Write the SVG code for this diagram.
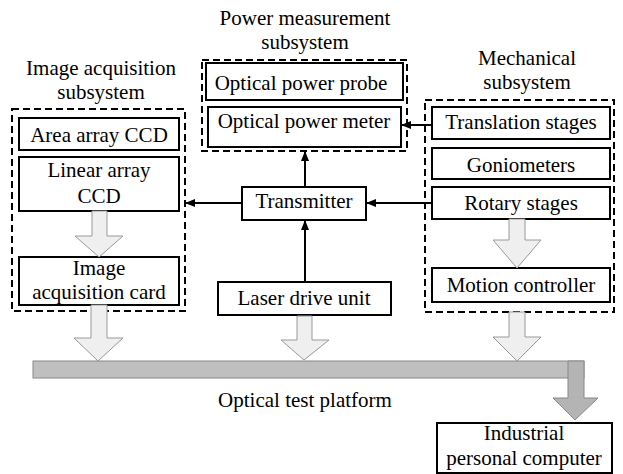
<svg xmlns="http://www.w3.org/2000/svg" width="623" height="474" viewBox="0 0 623 474">
<style>
text{font-size:21px;fill:#000;text-anchor:middle}
.box{fill:#fff;stroke:#000;stroke-width:2}
.dash{fill:none;stroke:#000;stroke-width:2;stroke-dasharray:7 4}
.blk{fill:#efefef;stroke:#999;stroke-width:1}
.bar{fill:#bfbfbf;stroke:#888;stroke-width:1}
.con{stroke:#000;stroke-width:2;fill:none}
</style>
<defs>
<marker id="ah" markerWidth="10" markerHeight="10" refX="9" refY="5" orient="auto" markerUnits="userSpaceOnUse">
<path d="M0,1 L10,5 L0,9 Z" fill="#000"/>
</marker>
</defs>
<rect width="623" height="474" fill="#fff"/>
<g font-family="Liberation Serif, DejaVu Serif, serif">

<g id="image-acquisition-subsystem">
<text x="101" y="75">Image acquisition</text>
<text x="101" y="99">subsystem</text>
<rect class="dash" x="12" y="109" width="173" height="202"/>
</g>
<g id="area-array-ccd">
<rect class="box" x="19" y="118" width="160" height="32"/>
<text x="99" y="142">Area array CCD</text>
</g>
<g id="linear-array-ccd">
<rect class="box" x="19" y="157" width="160" height="54"/>
<text x="99" y="177">Linear array</text>
<text x="99" y="203">CCD</text>
</g>
<g id="image-acquisition-card">
<rect class="box" x="19" y="257" width="160" height="48"/>
<text x="99" y="275">Image</text>
<text x="99" y="299">acquisition card</text>
</g>

<g id="power-measurement-subsystem">
<text x="305" y="25">Power measurement</text>
<text x="305" y="49">subsystem</text>
<rect class="dash" x="202" y="60" width="205" height="91"/>
</g>
<g id="optical-power-probe">
<rect class="box" x="206" y="63" width="197" height="37"/>
<text x="301" y="90">Optical power probe</text>
</g>
<g id="optical-power-meter">
<rect class="box" x="208" y="107" width="193" height="40"/>
<text x="304" y="128">Optical power meter</text>
</g>

<g id="transmitter">
<rect class="box" x="242" y="187" width="124" height="33"/>
<text x="304" y="208">Transmitter</text>
</g>
<g id="laser-drive-unit">
<rect class="box" x="218" y="282" width="173" height="33"/>
<text x="304" y="305">Laser drive unit</text>
</g>

<g id="mechanical-subsystem">
<text x="527" y="65">Mechanical</text>
<text x="527" y="89">subsystem</text>
<rect class="dash" x="425" y="100" width="189" height="212"/>
</g>
<g id="translation-stages">
<rect class="box" x="432" y="107" width="178" height="32"/>
<text x="521" y="129">Translation stages</text>
</g>
<g id="goniometers">
<rect class="box" x="432" y="148" width="178" height="31"/>
<text x="521" y="172">Goniometers</text>
</g>
<g id="rotary-stages">
<rect class="box" x="432" y="187" width="178" height="32"/>
<text x="521" y="210">Rotary stages</text>
</g>
<g id="motion-controller">
<rect class="box" x="432" y="268" width="178" height="34"/>
<text x="521" y="292">Motion controller</text>
</g>

<g id="optical-test-platform">
<rect class="bar" x="33" y="361" width="551" height="17"/>
<text x="305" y="407">Optical test platform</text>
</g>
<g id="industrial-personal-computer">
<rect class="box" x="437" y="423" width="175" height="50"/>
<text x="524" y="440">Industrial</text>
<text x="524" y="465">personal computer</text>
</g>
</g>

<g id="connectors">
<line class="con" x1="432" y1="125" x2="402" y2="125" marker-end="url(#ah)"/>
<line class="con" x1="305" y1="187" x2="305" y2="152" marker-end="url(#ah)"/>
<line class="con" x1="305" y1="282" x2="305" y2="221" marker-end="url(#ah)"/>
<line class="con" x1="432" y1="203" x2="367" y2="203" marker-end="url(#ah)"/>
<line class="con" x1="242" y1="203" x2="186" y2="203" marker-end="url(#ah)"/>
<path class="blk" d="M92,211 L107,211 L107,236 L123,236 L99,257 L75,236 L92,236 Z"/>
<path class="blk" d="M509,219 L525,219 L525,240 L541,240 L517,268 L493,240 L509,240 Z"/>
<path class="blk" d="M91,305 L107,305 L107,338 L123,338 L98,361 L74,338 L91,338 Z"/>
<path class="blk" d="M297,316 L312,316 L312,340 L329,340 L304,360 L281,340 L297,340 Z"/>
<path class="blk" d="M509,312 L525,312 L525,337 L541,337 L517,361 L493,337 L509,337 Z"/>
<path style="fill:#b4b4b4;stroke:#888;stroke-width:1" d="M568,361 L584,361 L584,398 L598,398 L575,420 L553,398 L568,398 Z"/>
</g>
</svg>
